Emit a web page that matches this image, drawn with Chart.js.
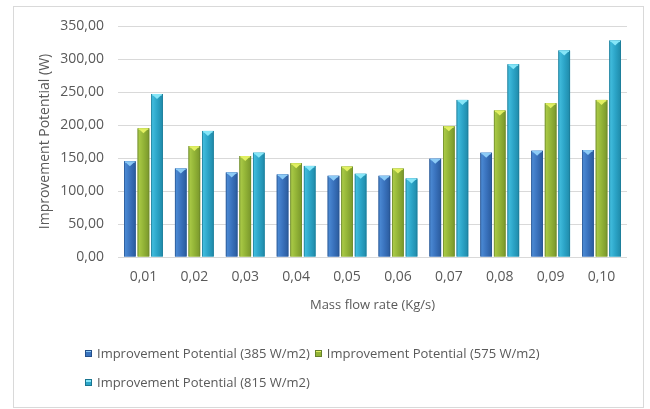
<!DOCTYPE html>
<html>
<head>
<meta charset="utf-8">
<script src="https://cdn.jsdelivr.net/npm/chart.js@4"></script>
<style>
  html, body { margin: 0; padding: 0; background: #fff; }
  #wrap { position: relative; width: 650px; height: 409px; font-family: "Open Sans", sans-serif; }
  #frame { position: absolute; left: 13px; top: 6px; width: 631px; height: 402px; border: 1px solid #d9d9d9; box-sizing: border-box; }
  canvas { position: absolute; left: 0; top: 0; }
  .legend-row { position: absolute; left: 85px; display: flex; align-items: center; font-size: 13px; line-height: 16px; color: #595959; white-space: nowrap; }
  .legend-item { display: flex; align-items: center; margin-right: 5px; }
  .swatch { width: 7px; height: 7px; margin-right: 5px; }
</style>
</head>
<body>
<div id="wrap">
  <div id="frame"></div>
  <canvas id="chart" width="650" height="409"></canvas>
  <div class="legend-row" id="legend-1" style="top:345px"></div>
  <div class="legend-row" id="legend-2" style="top:374px"></div>
</div>
<script>
// ── DATA ──────────────────────────────────────────────────────────────────────
const categories = ['0,01', '0,02', '0,03', '0,04', '0,05', '0,06', '0,07', '0,08', '0,09', '0,10'];
const seriesNames = [
  'Improvement Potential (385 W/m2)',
  'Improvement Potential (575 W/m2)',
  'Improvement Potential (815 W/m2)'
];
const ip385 = [145, 134, 128, 125, 123, 123, 149, 158, 161, 162];
const ip575 = [195, 168, 153, 142, 137, 134, 198, 222, 233, 238];
const ip815 = [247, 191, 158, 138, 126, 119, 238, 292, 313, 328];
const yTicks = [0, 50, 100, 150, 200, 250, 300, 350];

// ── BAR STYLES (excel-like bevelled columns) ─────────────────────────────────
const barStyle = [
  { edge: '#24508a', light: '#4a88d2', mid: '#3a73be', dark: '#2e60a4', tip: '#8ccbf6' },
  { edge: '#66822a', light: '#a8c845', mid: '#93b437', dark: '#7f9d2e', tip: '#e2f062' },
  { edge: '#1a7590', light: '#40bbdc', mid: '#2ca5c8', dark: '#2290b0', tip: '#86e6f8' }
];

function fmt(v) {
  return v.toFixed(2).replace('.', ',');
}

const bevelBars = {
  id: 'bevelBars',
  afterDatasetsDraw(chart) {
    const ctx = chart.ctx;
    ctx.save();
    chart.data.datasets.forEach((ds, i) => {
      const meta = chart.getDatasetMeta(i);
      const st = barStyle[i];
      meta.data.forEach(bar => {
        const { x, y, base, width } = bar.getProps(['x', 'y', 'base', 'width'], true);
        const l = x - width / 2, r = x + width / 2;
        const g = ctx.createLinearGradient(l, 0, r, 0);
        g.addColorStop(0, st.edge);
        g.addColorStop(0.12, st.light);
        g.addColorStop(0.5, st.mid);
        g.addColorStop(0.88, st.dark);
        g.addColorStop(1, st.edge);
        ctx.fillStyle = g;
        ctx.fillRect(l, y, width, base - y);
        // top bevel
        ctx.fillStyle = st.tip;
        ctx.fillRect(l + 1, y, width - 2, 1.5);
        ctx.beginPath();
        ctx.moveTo(l + 1.5, y + 1);
        ctx.lineTo(r - 1.5, y + 1);
        ctx.lineTo(x, y + 5);
        ctx.closePath();
        ctx.fill();
      });
    });
    ctx.restore();
  }
};

// ── CHART ─────────────────────────────────────────────────────────────────────
const seriesData = [ip385, ip575, ip815];

new Chart(document.getElementById('chart'), {
  type: 'bar',
  data: {
    labels: categories,
    datasets: seriesData.map((d, i) => ({
      label: seriesNames[i],
      data: d,
      backgroundColor: barStyle[i].mid,
      borderWidth: 0,
      categoryPercentage: 0.8,
      barPercentage: 0.86
    }))
  },
  options: {
    responsive: false,
    animation: false,
    layout: { padding: { left: 14, right: 23, top: 26, bottom: 92 } },
    plugins: {
      legend: { display: false },
      tooltip: { enabled: false }
    },
    scales: {
      x: {
        grid: { display: false, drawTicks: false },
        border: { display: false },
        ticks: { color: '#595959', font: { family: 'Open Sans', size: 14 }, padding: 12 },
        title: {
          display: true,
          text: 'Mass flow rate (Kg/s)',
          color: '#595959',
          font: { family: 'Open Sans', size: 13 },
          padding: { top: 0, bottom: 4 }
        },
        afterFit: s => { s.height = 60; }
      },
      y: {
        min: 0,
        max: 350,
        afterBuildTicks: s => { s.ticks = yTicks.map(v => ({ value: v })); },
        grid: { color: '#d9d9d9', drawTicks: false },
        border: { display: false },
        ticks: {
          color: '#595959',
          font: { family: 'Open Sans', size: 14 },
          padding: 14,
          callback: v => fmt(v)
        },
        title: {
          display: true,
          text: 'Improvement Potential (W)',
          color: '#595959',
          font: { family: 'Open Sans', size: 14 },
          padding: { top: 23, bottom: 0 }
        },
        afterFit: s => { s.width = 104; }
      }
    }
  },
  plugins: [bevelBars]
});

// ── LEGEND (excel style: left aligned, wraps onto 2 rows) ────────────────────
function legendItem(i) {
  const st = barStyle[i];
  return `<span class="legend-item"><span class="swatch" style="background:linear-gradient(${st.tip} 0 30%, ${st.mid} 30% 100%);border:1px solid ${st.edge};box-sizing:border-box"></span>${seriesNames[i]}</span>`;
}
document.getElementById('legend-1').innerHTML = legendItem(0) + legendItem(1);
document.getElementById('legend-2').innerHTML = legendItem(2);
</script>
</body>
</html>
